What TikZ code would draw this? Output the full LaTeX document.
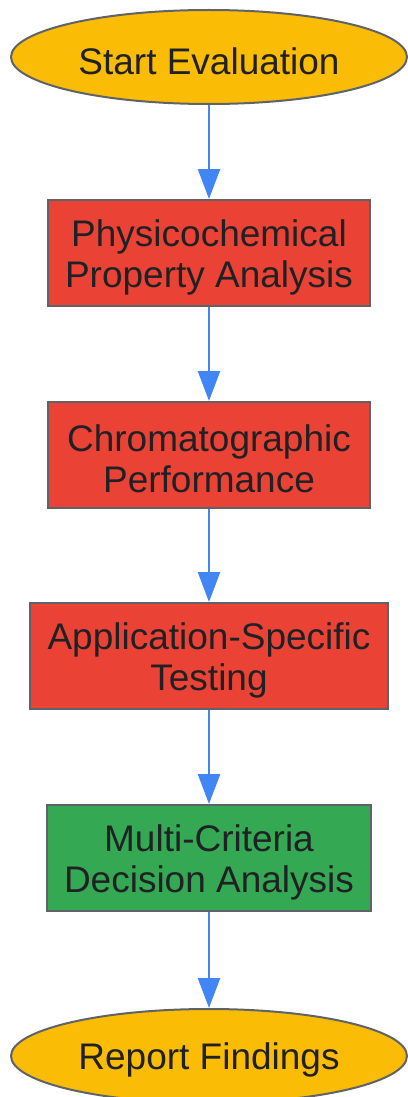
\documentclass[tikz,border=0pt]{standalone}
\usepackage{fontspec}
\setmainfont{Liberation Sans}
\usetikzlibrary{shapes.geometric,arrows.meta}
\definecolor{termyellow}{HTML}{FBBC05}
\definecolor{stepred}{HTML}{EA4335}
\definecolor{stepgreen}{HTML}{34A853}
\definecolor{flowblue}{HTML}{4285F4}
\definecolor{edgegray}{HTML}{5F6368}
\definecolor{inkdark}{HTML}{202124}
\newcommand{\capfill}{\rule{0pt}{35pt}}
\begin{document}
\begin{tikzpicture}[x=1pt,y=-1pt,
  every node/.style={font=\fontsize{37}{41}\selectfont,text=inkdark,align=center,inner sep=0pt},
  terminal/.style={ellipse,draw=edgegray,line width=2pt,fill=termyellow,minimum width=396pt,minimum height=94pt},
  stagebox/.style={rectangle,draw=edgegray,line width=2pt,fill=stepred,minimum height=106pt},
  decisionbox/.style={stagebox,fill=stepgreen},
  flow/.style={draw=flowblue,line width=2.5pt,-{Triangle[length=30pt,width=22pt]}}]
 \useasboundingbox (0,0) rectangle (407,1097);
 % nodes, top to bottom
 \node[terminal] (start) at (209,57) {\capfill Start Evaluation};
 \node[stagebox,minimum width=322pt] (physchem) at (209,253) {\capfill Physicochemical\\Property Analysis};
 \node[stagebox,minimum width=322pt] (chromato) at (209,455) {\capfill Chromatographic\\Performance};
 \node[stagebox,minimum width=358pt] (apptest) at (209,656) {\capfill Application-Specific\\Testing};
 \node[decisionbox,minimum width=324pt] (mcda) at (209,858) {\capfill Multi-Criteria\\Decision Analysis};
 \node[terminal] (report) at (209,1056) {\capfill Report Findings};
 % connectors
 \draw[flow] (start) -- (physchem);
 \draw[flow] (physchem) -- (chromato);
 \draw[flow] (chromato) -- (apptest);
 \draw[flow] (apptest) -- (mcda);
 \draw[flow] (mcda) -- (report);
\end{tikzpicture}
\end{document}
